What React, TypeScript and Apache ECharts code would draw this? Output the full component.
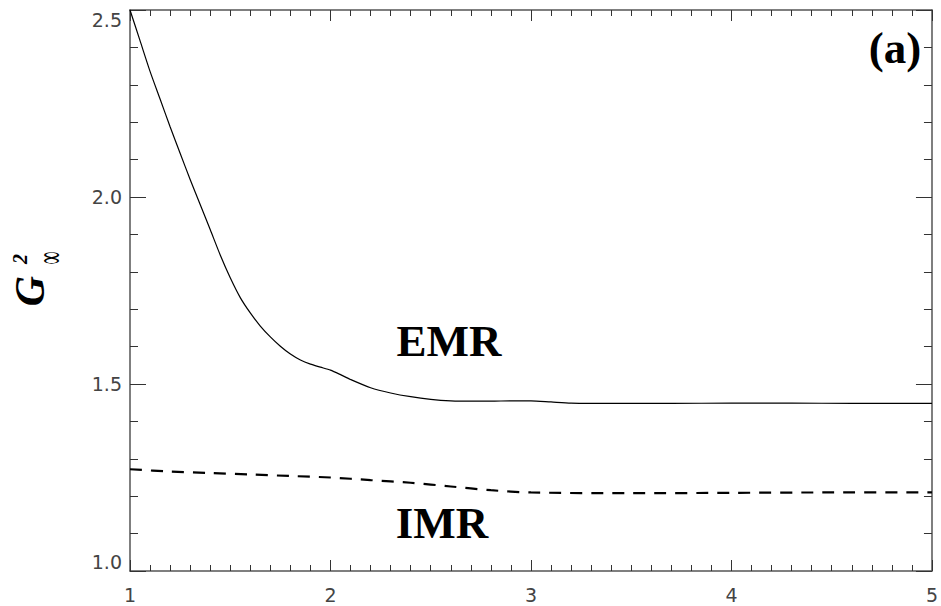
import React, { useEffect, useRef } from "react";
import * as echarts from "echarts";

const emrX = [1.0, 1.05, 1.1, 1.15, 1.2, 1.25, 1.3, 1.35, 1.4, 1.45, 1.5, 1.55, 1.6, 1.65, 1.7, 1.75, 1.8, 1.85, 1.9, 1.95, 2.0, 2.05, 2.1, 2.2, 2.3, 2.4, 2.5, 2.6, 2.7, 2.8, 2.9, 3.0, 3.1, 3.2, 3.4, 3.7, 4.0, 4.3, 4.6, 5.0];
const emrY = [2.5, 2.418, 2.336, 2.262, 2.188, 2.117, 2.047, 1.98, 1.913, 1.845, 1.784, 1.731, 1.69, 1.655, 1.626, 1.601, 1.58, 1.564, 1.553, 1.545, 1.537, 1.525, 1.512, 1.49, 1.476, 1.466, 1.459, 1.455, 1.454, 1.454, 1.455, 1.455, 1.452, 1.449, 1.448, 1.448, 1.449, 1.449, 1.448, 1.448];

const imrX = [1.0, 1.2, 1.4, 1.6, 1.8, 2.0, 2.2, 2.4, 2.6, 2.8, 3.0, 3.5, 4.0, 4.5, 5.0];
const imrY = [1.272, 1.266, 1.262, 1.258, 1.254, 1.25, 1.243, 1.236, 1.226, 1.216, 1.21, 1.208, 1.209, 1.21, 1.21];

const xTicks = [1, 2, 3, 4, 5];
const yTicks = [1.0, 1.5, 2.0, 2.5];

const axisColor = "#555";

export default function App() {
  const ref = useRef<HTMLDivElement>(null);
  useEffect(() => {
    if (!ref.current) return;
    const chart = echarts.init(ref.current, null, { renderer: "svg" });
    const xCommon = {
      type: "value",
      min: xTicks[0],
      max: xTicks[xTicks.length - 1],
      interval: 1,
      axisLine: { show: true, onZero: false, lineStyle: { color: axisColor, width: 1.5 } },
      axisTick: { show: true, inside: true, length: 11, lineStyle: { color: "#333", width: 1 } },
      minorTick: { show: true, splitNumber: 10, length: 6, lineStyle: { color: "#333", width: 1 } },
      splitLine: { show: false },
    };
    const yCommon = {
      type: "value",
      min: yTicks[0],
      max: yTicks[yTicks.length - 1],
      interval: 0.5,
      axisLine: { show: true, onZero: false, lineStyle: { color: axisColor, width: 1.5 } },
      axisTick: { show: true, inside: true, length: 16, lineStyle: { color: "#333", width: 1 } },
      minorTick: { show: true, splitNumber: 5, length: 8, lineStyle: { color: "#333", width: 1 } },
      splitLine: { show: false },
    };
    chart.setOption({
      animation: false,
      backgroundColor: "#fff",
      grid: { left: 130, right: 8, top: 10, bottom: 35, containLabel: false },
      xAxis: [
        {
          ...xCommon,
          position: "bottom",
          axisLabel: {
            show: true,
            margin: 14,
            fontFamily: "DejaVu Sans",
            fontSize: 19,
            color: "#444",
            formatter: (v: number) => String(v),
          },
        },
        { ...xCommon, position: "top", axisLabel: { show: false } },
      ],
      yAxis: [
        {
          ...yCommon,
          position: "left",
          axisLabel: {
            show: true,
            margin: 8,
            fontFamily: "DejaVu Sans",
            fontSize: 19,
            color: "#444",
            formatter: (v: number) => v.toFixed(1),
            verticalAlignMinLabel: "bottom",
            verticalAlignMaxLabel: "top",
          },
        },
        { ...yCommon, position: "right", axisLabel: { show: false } },
      ],
      series: [
        {
          name: "EMR",
          type: "line",
          xAxisIndex: 0,
          yAxisIndex: 0,
          data: emrX.map((x, i) => [x, emrY[i]]),
          showSymbol: false,
          symbol: "none",
          smooth: 0.25,
          lineStyle: { color: "#000", width: 1.2 },
        },
        {
          name: "IMR",
          type: "line",
          xAxisIndex: 0,
          yAxisIndex: 0,
          data: imrX.map((x, i) => [x, imrY[i]]),
          showSymbol: false,
          symbol: "none",
          smooth: 0.3,
          lineStyle: { color: "#000", width: 2.2, type: [12, 9] },
        },
      ],
      graphic: [
        {
          type: "text",
          x: 449,
          y: 341,
          style: {
            text: "EMR",
            fontFamily: "Liberation Serif",
            fontWeight: "bold",
            fontSize: 45,
            fill: "#000",
            align: "center",
            verticalAlign: "middle",
          },
        },
        {
          type: "text",
          x: 442,
          y: 523,
          style: {
            text: "IMR",
            fontFamily: "Liberation Serif",
            fontWeight: "bold",
            fontSize: 45,
            fill: "#000",
            align: "center",
            verticalAlign: "middle",
          },
        },
        {
          type: "text",
          x: 895,
          y: 48,
          style: {
            text: "(a)",
            fontFamily: "Liberation Serif",
            fontWeight: "bold",
            fontSize: 45,
            fill: "#000",
            align: "center",
            verticalAlign: "middle",
          },
        },
        {
          type: "text",
          x: 30,
          y: 291,
          rotation: Math.PI / 2,
          style: {
            text: "G",
            fontFamily: "Liberation Serif",
            fontWeight: "bold",
            fontStyle: "italic",
            fontSize: 42,
            fill: "#000",
            align: "center",
            verticalAlign: "middle",
          },
        },
        {
          type: "text",
          x: 20,
          y: 259,
          rotation: Math.PI / 2,
          style: {
            text: "2",
            fontFamily: "Liberation Serif",
            fontWeight: "bold",
            fontStyle: "italic",
            fontSize: 20,
            fill: "#000",
            align: "center",
            verticalAlign: "middle",
          },
        },
        {
          type: "text",
          x: 50,
          y: 258,
          rotation: Math.PI / 2,
          scaleY: 2.2,
          style: {
            text: "∞",
            fontFamily: "Liberation Serif",
            fontWeight: "bold",
            fontStyle: "italic",
            fontSize: 18,
            fill: "#000",
            align: "center",
            verticalAlign: "middle",
          },
        },
      ],
    });
    return () => chart.dispose();
  }, []);
  return (
    <div
      ref={ref}
      style={{ position: "fixed", left: 0, top: 0, width: 941, height: 606 }}
    />
  );
}
